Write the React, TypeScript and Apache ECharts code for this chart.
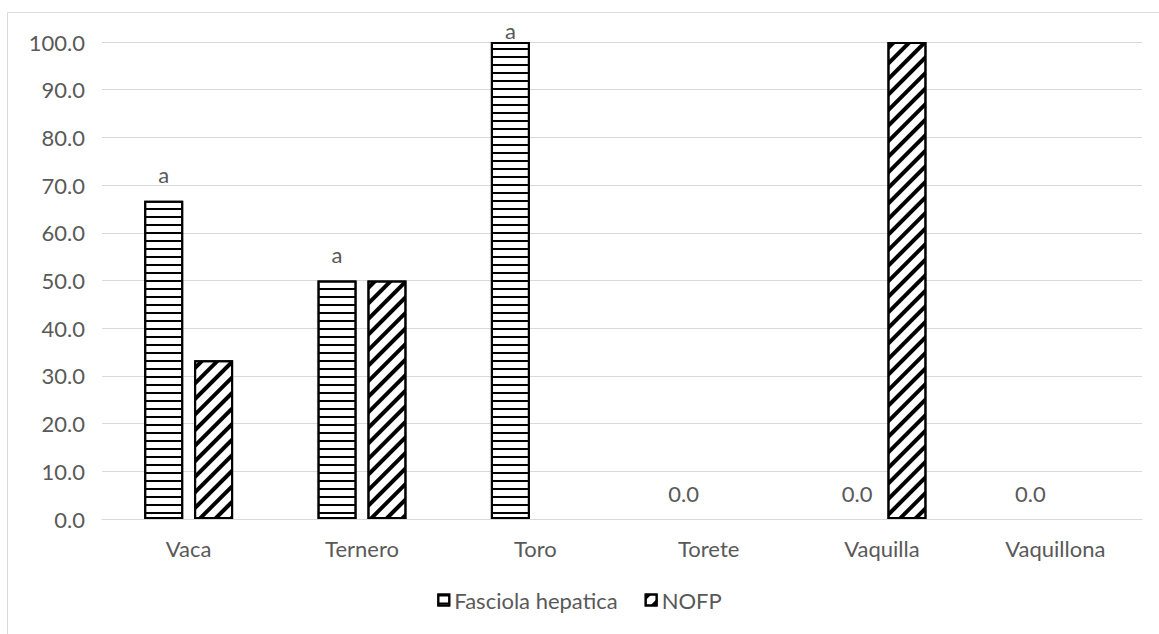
import React, { useEffect, useRef } from "react";
import * as echarts from "echarts";

const categories = ["Vaca", "Ternero", "Toro", "Torete", "Vaquilla", "Vaquillona"];
const fasciolaValues = [66.7, 50.0, 100.0, 0.0, 0.0, 0.0];
const nofpValues = [33.3, 50.0, 0.0, 0.0, 100.0, 0.0];
const fasciolaLabels = ["a", "a", "a", "0.0", "0.0", "0.0"];
const seriesNames = ["Fasciola hepatica", "NOFP"];

const FONT = "Lato";
const TXT = "#595959";
const FS = 22;

export default function App() {
  const ref = useRef<HTMLDivElement>(null);
  useEffect(() => {
    document.body.style.margin = "0";
    const chart = echarts.init(ref.current!, null, { renderer: "svg" });
    const hDecal = {
      symbol: "rect",
      symbolSize: 1,
      color: "#000",
      dashArrayX: [1, 0],
      dashArrayY: [2, 6],
      rotation: 0,
    };
    const dDecal = {
      symbol: "rect",
      symbolSize: 1,
      color: "#000",
      dashArrayX: [1, 0],
      dashArrayY: [4, 7],
      rotation: -Math.PI / 4,
    };
    const zeroStyle = { borderWidth: 0, color: "rgba(0,0,0,0)", decal: "none" };
    chart.setOption({
      animation: false,
      textStyle: { fontFamily: FONT, color: TXT },
      graphic: [
        {
          type: "rect",
          shape: { x: 7.5, y: 12.5, width: 1200, height: 700 },
          style: { fill: "none", stroke: "#d9d9d9", lineWidth: 1 },
          silent: true,
        },
      ],
      grid: { left: 102, right: 17, top: 42, bottom: 115 },
      legend: {
        bottom: 18,
        left: "center",
        icon: "rect",
        itemWidth: 11,
        itemHeight: 11,
        itemGap: 27,
        textStyle: { fontFamily: FONT, fontSize: FS, color: TXT },
        data: seriesNames,
      },
      xAxis: {
        type: "category",
        data: categories,
        axisLine: { lineStyle: { color: "#d9d9d9", width: 1 } },
        axisTick: { show: false },
        axisLabel: { fontFamily: FONT, fontSize: FS, color: TXT, margin: 18 },
      },
      yAxis: {
        type: "value",
        min: 0,
        max: 100,
        interval: 10,
        axisLine: { show: false },
        axisTick: { show: false },
        splitLine: { lineStyle: { color: "#d9d9d9", width: 1 } },
        axisLabel: {
          fontFamily: FONT,
          fontSize: FS,
          color: TXT,
          margin: 17,
          formatter: (v: number) => v.toFixed(1),
        },
      },
      series: [
        {
          name: seriesNames[0],
          type: "bar",
          barWidth: 39,
          barGap: "28%",
          data: fasciolaValues.map((v, i) => ({
            value: v,
            label: i === 2 ? { distance: 1 } : undefined,
            itemStyle: v === 0 ? zeroStyle : undefined,
          })),
          itemStyle: { color: "#fff", borderColor: "#000", borderWidth: 2, decal: hDecal },
          label: {
            show: true,
            position: "top",
            distance: 15,
            fontFamily: FONT,
            fontSize: FS,
            color: TXT,
            formatter: (p: any) => fasciolaLabels[p.dataIndex],
          },
        },
        {
          name: seriesNames[1],
          type: "bar",
          barWidth: 39,
          data: nofpValues.map((v) => ({
            value: v,
            itemStyle: v === 0 ? zeroStyle : undefined,
          })),
          itemStyle: { color: "#fff", borderColor: "#000", borderWidth: 2, decal: dDecal },
        },
      ],
    });
    return () => chart.dispose();
  }, []);
  return <div ref={ref} style={{ width: 1159, height: 634 }} />;
}
